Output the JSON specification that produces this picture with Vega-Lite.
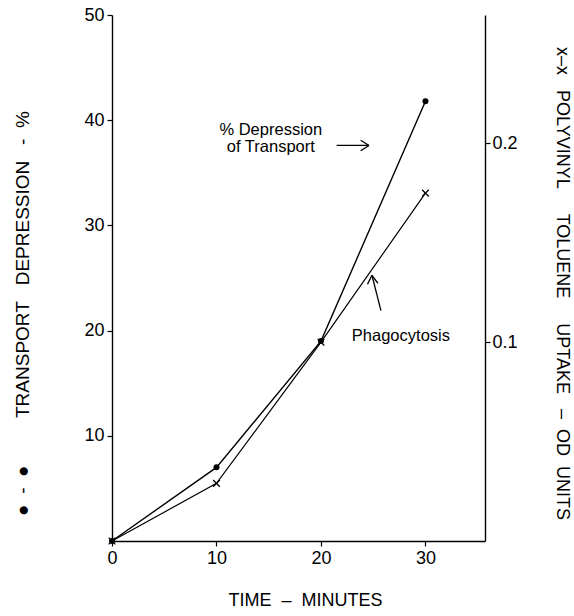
{
  "$schema": "https://vega.github.io/schema/vega-lite/v6.json",
  "autosize": {"type": "none"},
  "width": 373,
  "height": 526,
  "padding": {"left": 112, "top": 15, "right": 89, "bottom": 75},
  "background": "white",
  "config": {
    "view": {"stroke": null},
    "font": "Liberation Sans",
    "axis": {
      "grid": false,
      "domainColor": "black",
      "domainWidth": 1.4,
      "tickColor": "black",
      "tickWidth": 1.2,
      "tickSize": 5,
      "labelColor": "black",
      "labelFontSize": 18,
      "labelFont": "Liberation Sans",
      "labelFlush": false,
      "titleColor": "black",
      "titleFont": "Liberation Sans",
      "titleFontSize": 18,
      "titleFontWeight": "normal"
    }
  },
  "datasets": {
    "transport": [
      {"t": 0, "v": 0},
      {"t": 10, "v": 7},
      {"t": 20, "v": 19},
      {"t": 30, "v": 41.8}
    ],
    "phago": [
      {"t": 0, "od": 0},
      {"t": 10, "od": 0.029},
      {"t": 20, "od": 0.1},
      {"t": 30, "od": 0.175}
    ],
    "labels": [
      {"x": 15.2, "y": 39.1, "label": "% Depression"},
      {"x": 15.2, "y": 37.5, "label": "of Transport"},
      {"x": 27.65, "y": 19.5, "label": "Phagocytosis"}
    ],
    "arrows": [
      {"x": 21.5, "y": 37.6, "x2": 24.6, "y2": 37.6},
      {"x": 24.6, "y": 37.6, "x2": 23.8, "y2": 38.1},
      {"x": 24.6, "y": 37.6, "x2": 23.8, "y2": 37.1},
      {"x": 25.74, "y": 21.9, "x2": 24.88, "y2": 25.26},
      {"x": 24.88, "y": 25.26, "x2": 24.45, "y2": 24.4},
      {"x": 24.88, "y": 25.26, "x2": 25.45, "y2": 24.5}
    ]
  },
  "layer": [
    {
      "layer": [
        {
          "data": {"name": "transport"},
          "mark": {"type": "line", "color": "black", "strokeWidth": 1.4},
          "encoding": {
            "x": {"field": "t", "type": "quantitative", "scale": {"domain": [0, 35.7], "nice": false},
              "axis": {"values": [0, 10, 20, 30], "title": "TIME\u00a0\u00a0–\u00a0\u00a0MINUTES", "labelPadding": 3, "titleX": 193, "titleY": 50, "titleAnchor": "middle", "titleAlign": "center"}},
            "y": {"field": "v", "type": "quantitative", "scale": {"domain": [0, 50], "nice": false},
              "axis": {"values": [10, 20, 30, 40, 50], "title": "●\u00a0\u00a0-\u00a0\u00a0●\u00a0\u00a0\u00a0\u00a0\u00a0\u00a0\u00a0\u00a0\u00a0TRANSPORT\u00a0\u00a0\u00a0DEPRESSION\u00a0\u00a0\u00a0-\u00a0\u00a0%", "titleFontSize": 19, "titleX": -90, "titleY": 298, "titleAngle": -90, "titleAlign": "center", "titleBaseline": "middle", "labelPadding": 3}}
          }
        },
        {
          "data": {"name": "transport"},
          "mark": {"type": "point", "filled": true, "color": "black", "size": 36, "opacity": 1},
          "encoding": {
            "x": {"field": "t", "type": "quantitative"},
            "y": {"field": "v", "type": "quantitative"}
          }
        },
        {
          "data": {"name": "labels"},
          "mark": {"type": "text", "fontSize": 16.5, "color": "black", "align": "center", "baseline": "middle", "font": "Liberation Sans"},
          "encoding": {
            "x": {"field": "x", "type": "quantitative"},
            "y": {"field": "y", "type": "quantitative"},
            "text": {"field": "label"}
          }
        },
        {
          "data": {"name": "arrows"},
          "mark": {"type": "rule", "color": "black", "strokeWidth": 1.3},
          "encoding": {
            "x": {"field": "x", "type": "quantitative"},
            "y": {"field": "y", "type": "quantitative"},
            "x2": {"field": "x2"},
            "y2": {"field": "y2"}
          }
        }
      ]
    },
    {
      "layer": [
        {
          "data": {"name": "phago"},
          "mark": {"type": "line", "color": "black", "strokeWidth": 1.2},
          "encoding": {
            "x": {"field": "t", "type": "quantitative"},
            "y": {"field": "od", "type": "quantitative", "scale": {"domain": [0, 0.2646], "nice": false},
              "axis": {"orient": "right", "values": [0.1, 0.2], "format": ".1f", "title": "x–x\u00a0\u00a0\u00a0POLYVINYL\u00a0\u00a0\u00a0\u00a0\u00a0TOLUENE\u00a0\u00a0\u00a0\u00a0\u00a0UPTAKE\u00a0\u00a0\u00a0–\u00a0\u00a0OD\u00a0\u00a0UNITS", "titleAngle": 90, "titleX": 76, "titleY": 268, "titleAlign": "center", "titleBaseline": "middle", "labelPadding": 2}}
          }
        },
        {
          "data": {"name": "phago"},
          "mark": {"type": "point", "shape": "M-1,-1L1,1M-1,1L1,-1", "filled": false, "color": "black", "size": 45, "strokeWidth": 1.3, "opacity": 1},
          "encoding": {
            "x": {"field": "t", "type": "quantitative"},
            "y": {"field": "od", "type": "quantitative"}
          }
        }
      ]
    }
  ],
  "resolve": {"scale": {"y": "independent"}}
}
